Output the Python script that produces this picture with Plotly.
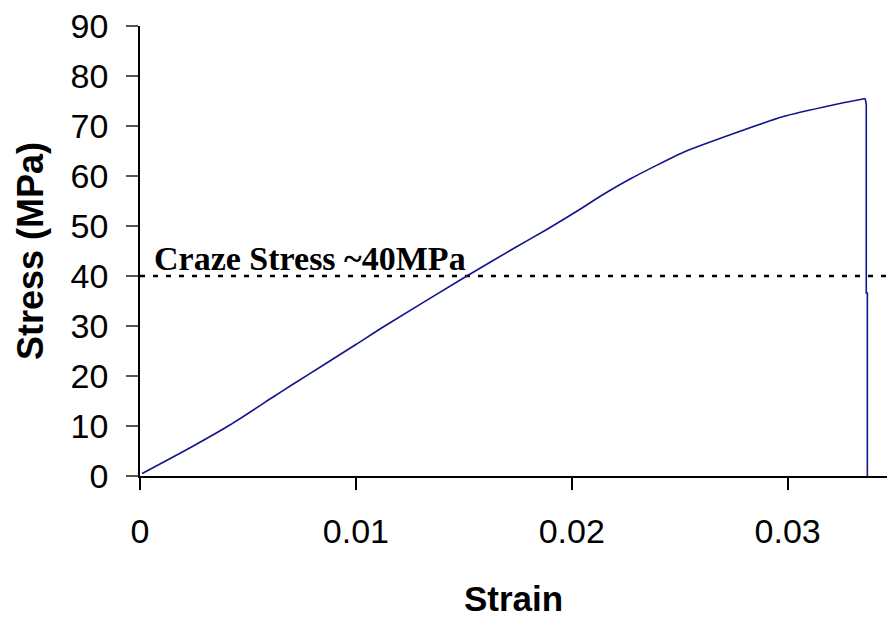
import plotly.graph_objects as go

# Data
# loading curve (smooth part)
strain = [0.0001, 0.0023, 0.0042, 0.0062, 0.0071, 0.0085, 0.0100, 0.0113,
          0.0151, 0.0173, 0.0188, 0.0204, 0.0213, 0.0227, 0.0252, 0.0275,
          0.0298, 0.0321, 0.03359]
stress = [0.5, 5.6, 10.3, 15.9, 18.4, 22.2, 26.3, 29.9,
          39.9, 45.5, 49.2, 53.4, 55.9, 59.4, 64.8, 68.5,
          71.9, 74.2, 75.5]
# fracture drop
fracture_strain = [0.03359, 0.03364, 0.03364, 0.03369, 0.03369]
fracture_stress = [75.5, 74.3, 36.6, 36.6, 0.0]

craze_stress = 40
craze_label = "Craze Stress ~40MPa"

x_ticks = [0, 0.01, 0.02, 0.03]
x_tick_text = ["0", "0.01", "0.02", "0.03"]
y_ticks = [0, 10, 20, 30, 40, 50, 60, 70, 80, 90]

line_color = "#14148c"

fig = go.Figure()

fig.add_trace(go.Scatter(
    x=[0, 0.0346], y=[craze_stress, craze_stress], mode="lines",
    line=dict(color="black", width=2.5, dash="5px,8px"),
    hoverinfo="skip", showlegend=False,
))

fig.add_trace(go.Scatter(
    x=strain, y=stress, mode="lines",
    line=dict(color=line_color, width=1.6, shape="spline", smoothing=0.6),
    showlegend=False,
))

fig.add_trace(go.Scatter(
    x=fracture_strain, y=fracture_stress, mode="lines",
    line=dict(color=line_color, width=1.6),
    showlegend=False,
))

fig.add_annotation(
    x=0.00056, y=craze_stress, xref="x", yref="y",
    text="<b>" + craze_label + "</b>", showarrow=False, xanchor="left", yanchor="bottom",
    yshift=-3,
    font=dict(family="Liberation Serif, Times New Roman, serif", size=34, color="black"),
)

axis_font = dict(family="Liberation Sans, Arial, sans-serif", size=34, color="black")
x_title_font = dict(family="Liberation Sans, Arial, sans-serif", size=35, color="black")
y_title_font = dict(family="Liberation Sans, Arial, sans-serif", size=36, color="black")

fig.update_layout(
    width=887, height=618,
    margin=dict(l=140, r=0, t=26, b=142),
    plot_bgcolor="white", paper_bgcolor="white",
    xaxis=dict(
        range=[0, 0.0346], tickvals=x_ticks, ticktext=x_tick_text,
        showgrid=False, zeroline=False, showline=True, linecolor="black", linewidth=1.5,
        ticks="outside", ticklen=12, tickcolor="black", tickwidth=1.5,
        tickfont=axis_font, ticklabelstandoff=12,
        title=dict(text="<b>Strain</b>", font=x_title_font, standoff=38),
        automargin=False,
    ),
    yaxis=dict(
        range=[0, 90], tickvals=y_ticks,
        showgrid=False, zeroline=False, showline=True, linecolor="black", linewidth=1.5,
        ticks="outside", ticklen=12, tickcolor="#555555", tickwidth=1.5,
        tickfont=axis_font, ticklabelstandoff=11,
        title=dict(text="<b>Stress (MPa)</b>", font=y_title_font, standoff=16),
        automargin=False,
    ),
)

fig.write_html("out.html", config={"displayModeBar": False},
               post_script="document.body.style.margin='0';")
